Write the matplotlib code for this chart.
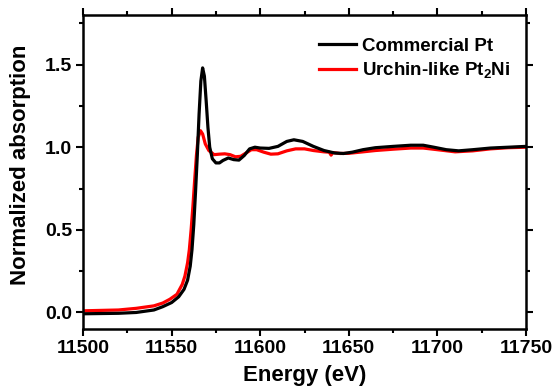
import numpy as np
import matplotlib
matplotlib.use('Agg')
import matplotlib.pyplot as plt

# Pt L3-edge XANES
energy_pt = [11500, 11520, 11530, 11540, 11545, 11550, 11554, 11557, 11559, 11560.5,
             11561.5, 11562.5, 11563.5, 11564.5, 11565.5, 11566.5, 11567.5, 11568.5, 11569.5, 11570.5,
             11571.5, 11573, 11575, 11577, 11579, 11582, 11585, 11588, 11591, 11594,
             11597, 11600, 11605, 11610, 11615, 11619, 11624, 11630, 11636, 11642,
             11647, 11652, 11658, 11665, 11675, 11685, 11692, 11698, 11705, 11712,
             11720, 11730, 11740, 11750]
absorb_pt = [-0.008, -0.005, 0.0, 0.015, 0.035, 0.06, 0.095, 0.14, 0.195, 0.28,
             0.38, 0.53, 0.73, 0.95, 1.2, 1.40, 1.48, 1.43, 1.28, 1.12,
             1.0, 0.93, 0.905, 0.905, 0.92, 0.935, 0.925, 0.922, 0.95, 0.99,
             1.0, 0.995, 0.993, 1.005, 1.035, 1.045, 1.035, 1.005, 0.98, 0.965,
             0.962, 0.97, 0.985, 0.997, 1.005, 1.012, 1.012, 1.0, 0.985, 0.978,
             0.985, 0.995, 1.0, 1.005]

energy_pt2ni = [11500, 11520, 11530, 11540, 11545, 11549, 11553, 11556, 11557.5, 11559,
                11560, 11561, 11562, 11563, 11564, 11565, 11566.3, 11567.5, 11569, 11571,
                11574, 11577, 11580, 11583, 11586, 11589, 11592, 11595, 11598, 11602,
                11606, 11610, 11615, 11620, 11625, 11630, 11636, 11639, 11640, 11641,
                11645, 11650, 11658, 11665, 11675, 11685, 11692, 11700, 11710, 11720,
                11730, 11740, 11750]
absorb_pt2ni = [0.01, 0.015, 0.025, 0.04, 0.057, 0.08, 0.11, 0.17, 0.22, 0.3,
                0.38, 0.5, 0.64, 0.8, 0.95, 1.06, 1.10, 1.08, 1.02, 0.98,
                0.955, 0.958, 0.96, 0.955, 0.942, 0.945, 0.965, 0.985, 0.985, 0.97,
                0.958, 0.96, 0.978, 0.99, 0.99, 0.98, 0.972, 0.97, 0.952, 0.968,
                0.962, 0.963, 0.972, 0.98, 0.988, 0.995, 0.995, 0.985, 0.972, 0.978,
                0.99, 0.997, 1.0]

plt.rcParams['font.family'] = ['Liberation Sans', 'DejaVu Sans']
plt.rcParams['font.weight'] = 'bold'
plt.rcParams['mathtext.fontset'] = 'custom'
plt.rcParams['mathtext.rm'] = 'Liberation Sans:bold'
plt.rcParams['mathtext.bf'] = 'Liberation Sans:bold'

fig = plt.figure(figsize=(5.55, 3.87), dpi=100)
ax = fig.add_axes([0.1496, 0.1499, 0.7981, 0.8113])

ax.plot(energy_pt2ni, absorb_pt2ni, color='#ff0000', lw=2.3, zorder=2,
        label=r'Urchin-like Pt$_{2}$Ni')
ax.plot(energy_pt, absorb_pt, color='black', lw=2.3, zorder=3, label='Commercial Pt')

ax.set_xlim(11500, 11750)
ax.set_ylim(-0.1, 1.8)
ax.set_xticks([11500, 11550, 11600, 11650, 11700, 11750])
ax.set_xticks(np.arange(11525, 11750, 50), minor=True)
ax.set_yticks([0.0, 0.5, 1.0, 1.5])
ax.set_yticks([0.25, 0.75, 1.25, 1.75], minor=True)

for s in ax.spines.values():
    s.set_linewidth(1.8)
ax.tick_params(which='both', direction='out', top=True, right=True, width=1.5,
               labelsize=14, pad=3)
ax.tick_params(which='major', length=5)
ax.tick_params(which='minor', length=3)

ax.set_xlabel('Energy (eV)', fontsize=16, fontweight='bold', labelpad=6)
ax.set_ylabel('Normalized absorption', fontsize=16, fontweight='bold')
ax.yaxis.set_label_coords(-0.117, 0.522)

h, l = ax.get_legend_handles_labels()
ax.legend(h[::-1], l[::-1], loc='upper left', bbox_to_anchor=(0.532, 0.928),
          frameon=False, fontsize=13.5, handlelength=2.0, handletextpad=0.3,
          labelspacing=0.3, borderpad=0, borderaxespad=0)

fig.savefig('out.png', dpi=100)
